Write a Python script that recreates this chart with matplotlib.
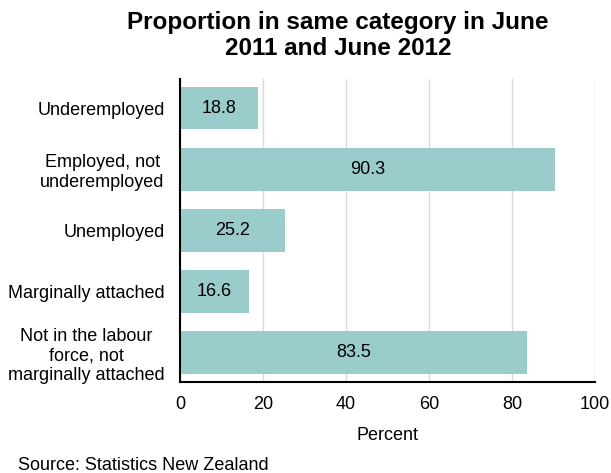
import matplotlib.pyplot as plt
import numpy as np

plt.rcParams['font.family'] = ['Liberation Sans', 'DejaVu Sans']

categories = ['Underemployed', 'Employed, not\nunderemployed', 'Unemployed',
              'Marginally attached', 'Not in the labour\nforce, not\nmarginally attached']
values = [18.8, 90.3, 25.2, 16.6, 83.5]

fig = plt.figure(figsize=(6.11, 4.73), dpi=100)
ax = fig.add_axes([0.2946, 0.1924, 0.6794, 0.6406])

y = np.arange(len(categories))
bars = ax.barh(y, values, height=0.7, color='#9acccc', zorder=2)
for yi, v in zip(y, values):
    ax.text(v / 2, yi, f'{v:.1f}', ha='center', va='center', fontsize=13, zorder=3)

ax.set_ylim(len(categories) - 0.525, -0.475)
ax.set_xlim(0, 100)
ax.set_xticks([0, 20, 40, 60, 80, 100])
ax.set_yticks(y)
ax.set_yticklabels(categories, fontsize=13, ha='right', multialignment='center',
                   linespacing=1.2)
ax.tick_params(axis='both', length=0, labelsize=13)
ax.tick_params(axis='x', pad=10)
ax.tick_params(axis='y', pad=11)
ax.xaxis.grid(True, color='#d9d9d9', linewidth=1, zorder=0)
ax.set_axisbelow(True)
for s in ['top', 'right']:
    ax.spines[s].set_visible(False)
ax.spines['left'].set_linewidth(1.5)
ax.spines['bottom'].set_linewidth(1.5)
ax.set_xlabel('Percent', fontsize=13, labelpad=10)

fig.suptitle('Proportion in same category in June\n2011 and June 2012',
             fontsize=17.5, fontweight='bold', x=0.553, y=0.977, linespacing=1.2)
fig.text(0.03, 0.006, 'Source: Statistics New Zealand', fontsize=13)

plt.savefig('out.png')
